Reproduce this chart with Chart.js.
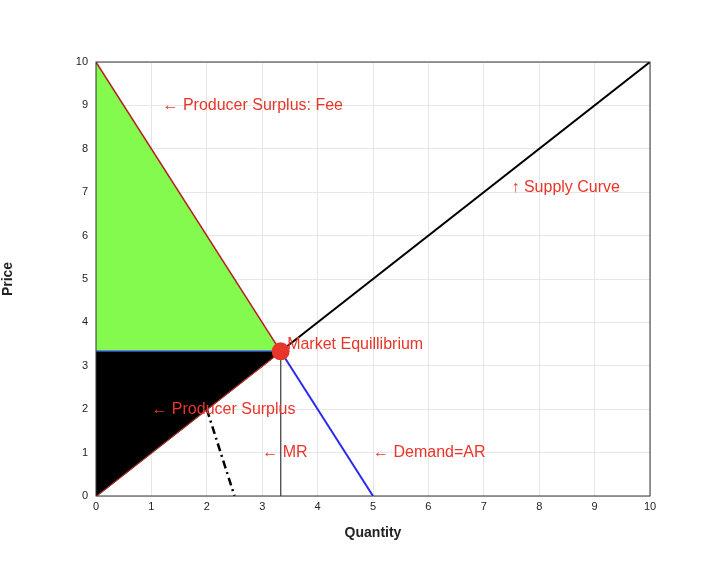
<!DOCTYPE html>
<html><head><meta charset="utf-8">
<script src="https://cdn.jsdelivr.net/npm/chart.js@4"></script>
<style>html,body{margin:0;background:#fff}#w{width:715px;height:574px}</style>
</head><body><div id="w"><canvas id="c"></canvas></div>
<script>
const ticks = [0,1,2,3,4,5,6,7,8,9,10];
const eq = 10/3;
const supplyLine = [{x:0,y:0},{x:10,y:10}];
const supplyLower = [{x:0,y:0},{x:eq,y:eq}];
const feeLine = [{x:0,y:eq},{x:eq,y:eq}];
const demandUpper = [{x:0,y:10},{x:eq,y:eq}];
const demandLower = [{x:eq,y:eq},{x:5,y:0}];
const mrLine = [{x:2,y:2},{x:2.5,y:0}];
const eqDrop = [{x:eq,y:eq},{x:eq,y:0}];
const eqPoint = [{x:eq,y:eq}];
const labels = [
  {x:1.2,y:9,t:'\u2190 Producer Surplus: Fee'},
  {x:7.5,y:7.1,t:'\u2191 Supply Curve'},
  {x:3.45,y:3.5,t:'Market Equillibrium'},
  {x:1.0,y:2,t:'\u2190 Producer Surplus'},
  {x:3.0,y:1,t:'\u2190 MR'},
  {x:5.0,y:1,t:'\u2190 Demand=AR'}
];
const base = {showLine:true,pointRadius:0,fill:false,borderWidth:2};
const annot = {id:'annot',
  afterDatasetsDraw(c){const ctx=c.ctx,a=c.chartArea,xs=c.scales.x,ys=c.scales.y;
    ctx.save();ctx.strokeStyle='#333';ctx.lineWidth=1;ctx.strokeRect(a.left,a.top,a.right-a.left,a.bottom-a.top);
    ctx.fillStyle='#e8352a';ctx.font='16px "Liberation Sans", Arial, sans-serif';ctx.textBaseline='middle';
    labels.forEach(l=>ctx.fillText(l.t,xs.getPixelForValue(l.x),ys.getPixelForValue(l.y)));
    ctx.restore();}};
new Chart(document.getElementById('c'),{type:'scatter',
 data:{datasets:[
  {...base,data:eqPoint,showLine:false,pointRadius:9,pointBackgroundColor:'#e8352a',pointBorderWidth:0},
  {...base,data:feeLine,borderColor:'#3333dd',borderWidth:1.5,fill:{target:2},backgroundColor:'#000000'},
  {...base,data:supplyLower,borderColor:'#e8352a',borderWidth:1.5},
  {...base,data:demandUpper,borderColor:'#b22020',borderWidth:1.5,fill:{target:1},backgroundColor:'#84fa4e'},
  {...base,data:supplyLine,borderColor:'#000'},
  {...base,data:demandLower,borderColor:'#2a2aee'},
  {...base,data:mrLine,borderColor:'#000',borderDash:[8,4,2,4],borderWidth:2.5},
  {...base,data:eqDrop,borderColor:'#555',borderWidth:1}
 ]},
 options:{responsive:true,maintainAspectRatio:false,animation:false,
  layout:{padding:{left:0,right:65,top:62,bottom:30}},
  plugins:{legend:{display:false},tooltip:{enabled:false}},
  scales:{
   x:{type:'linear',min:0,max:10,afterBuildTicks:s=>{s.ticks=ticks.map(v=>({value:v}))},
      grid:{color:'#e6e6e6',drawTicks:false},border:{display:false},
      ticks:{color:'#222',font:{size:11},padding:4},
      title:{display:true,text:'Quantity',color:'#222',font:{size:14,weight:'bold'},padding:2},
      afterFit:s=>{s.height=48}},
   y:{type:'linear',min:0,max:10,afterBuildTicks:s=>{s.ticks=ticks.map(v=>({value:v}))},
      grid:{color:'#e6e6e6',drawTicks:false},border:{display:false},
      ticks:{color:'#222',font:{size:11},padding:8},
      title:{display:true,text:'Price',color:'#222',font:{size:14,weight:'bold'},padding:0},
      afterFit:s=>{s.width=96}}
  }},
 plugins:[annot]});
</script></body></html>
